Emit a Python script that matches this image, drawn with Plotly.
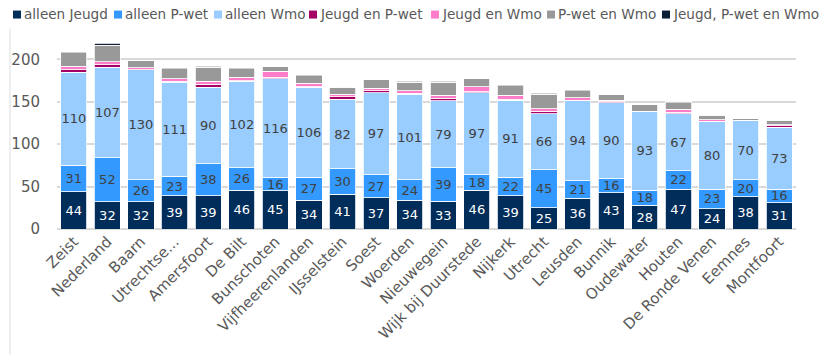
import plotly.graph_objects as go

# Gemeenten (categorieën op de x-as)
gemeenten = ["Zeist", "Nederland", "Baarn", "Utrechtse...", "Amersfoort", "De Bilt",
             "Bunschoten", "Vijfheerenlanden", "IJsselstein", "Soest", "Woerden",
             "Nieuwegein", "Wijk bij Duurstede", "Nijkerk", "Utrecht", "Leusden",
             "Bunnik", "Oudewater", "Houten", "De Ronde Venen", "Eemnes", "Montfoort"]

# Aantallen per combinatie van voorzieningen
alleen_jeugd = [44, 32, 32, 39, 39, 46, 45, 34, 41, 37, 34, 33, 46, 39, 25, 36, 43, 28, 47, 24, 38, 31]
alleen_pwet = [31, 52, 26, 23, 38, 26, 16, 27, 30, 27, 24, 39, 18, 22, 45, 21, 16, 18, 22, 23, 20, 16]
alleen_wmo = [110, 107, 130, 111, 90, 102, 116, 106, 82, 97, 101, 79, 97, 91, 66, 94, 90, 93, 67, 80, 70, 73]
jeugd_en_pwet = [3, 3, 0, 1, 4, 1, 2, 1, 3, 2, 1, 3, 1, 1, 3, 1, 1, 0, 2, 0, 0, 2]
jeugd_en_wmo = [4, 3, 2, 3, 3, 4, 7, 4, 3, 3, 3, 4, 6, 5, 3, 3, 2, 0, 3, 2, 0, 1]
pwet_en_wmo = [16, 20, 9, 12, 17, 10, 6, 9, 8, 10, 10, 15, 9, 11, 17, 8, 7, 8, 8, 5, 2, 5]
alle_drie = [1, 2, 0, 1, 1, 1, 0, 1, 1, 0, 1, 1, 0, 1, 1, 1, 0, 0, 1, 1, 0, 1]

y_ticks = [0, 50, 100, 150, 200]

reeksen = [
    ("alleen Jeugd", alleen_jeugd, "#002D5A", True, "#FFFFFF"),
    ("alleen P-wet", alleen_pwet, "#3399FF", True, "#404040"),
    ("alleen Wmo", alleen_wmo, "#99CCFF", True, "#404040"),
    ("Jeugd en P-wet", jeugd_en_pwet, "#A50064", False, None),
    ("Jeugd en Wmo", jeugd_en_wmo, "#FF7CC8", False, None),
    ("P-wet en Wmo", pwet_en_wmo, "#999999", False, None),
    ("Jeugd, P-wet en Wmo", alle_drie, "#0A1E36", False, None),
]

# Linkerrand (px) van elk legenda-blokje
legenda_x = [13, 114, 214, 309, 431, 547, 662]

FONT = "DejaVu Sans, Verdana, sans-serif"

fig = go.Figure()
for naam, waarden, kleur, label, tekstkleur in reeksen:
    fig.add_trace(go.Bar(
        name=naam,
        x=gemeenten,
        y=waarden,
        marker=dict(color=kleur, line=dict(color="#FFFFFF", width=0.8)),
        texttemplate="%{y}" if label else None,
        textposition="inside" if label else "none",
        insidetextanchor="middle",
        textangle=0,
        constraintext="none",
        textfont=dict(family=FONT, size=13, color=tekstkleur) if label else None,
        hoverinfo="x+y+name",
        showlegend=False,
    ))

W, H = 820, 355
m_l, m_r, m_t, m_b = 57, 24, 33.5, 126
plot_w = W - m_l - m_r
plot_h = H - m_t - m_b


def px_x(p):
    return (p - m_l) / plot_w


def px_y(p):
    return 1 + (m_t - p) / plot_h


# Legenda: gekleurd blokje met naam erachter
annotations = []
shapes = []
for (naam, _, kleur, _, _), lx in zip(reeksen, legenda_x):
    shapes.append(dict(
        type="rect", xref="paper", yref="paper",
        x0=px_x(lx), x1=px_x(lx + 8), y0=px_y(18), y1=px_y(10),
        fillcolor=kleur, line=dict(width=0),
    ))
    annotations.append(dict(
        text=naam, xref="paper", yref="paper",
        x=px_x(lx + 9), y=px_y(13.5),
        xanchor="left", yanchor="middle", showarrow=False,
        font=dict(family=FONT, size=13.6, color="#595959"),
    ))

# Dunne grijze rand links van de grafiek
shapes.append(dict(
    type="line", xref="paper", yref="paper",
    x0=px_x(10), x1=px_x(10), y0=px_y(H), y1=px_y(28),
    line=dict(color="#EEEEEE", width=2),
))

fig.update_layout(
    width=W, height=H,
    barmode="stack",
    bargap=0.22,
    margin=dict(l=m_l, r=m_r, t=m_t, b=m_b, pad=0),
    plot_bgcolor="#FFFFFF",
    paper_bgcolor="#FFFFFF",
    font=dict(family=FONT, color="#595959"),
    uniformtext=dict(minsize=13, mode="show"),
    xaxis=dict(
        tickangle=-45,
        tickfont=dict(family=FONT, size=15, color="#595959"),
        showgrid=False,
        showline=False,
        ticks="",
        fixedrange=True,
    ),
    yaxis=dict(
        range=[0, 230],
        tickvals=y_ticks,
        tickfont=dict(family=FONT, size=15, color="#595959"),
        showgrid=True,
        gridcolor="#D9D9D9",
        gridwidth=1.5,
        zeroline=True,
        zerolinecolor="#D9D9D9",
        zerolinewidth=1.5,
        showline=False,
        ticks="",
        ticklabelstandoff=16,
        fixedrange=True,
    ),
    annotations=annotations,
    shapes=shapes,
)

fig.write_html("out.html")
